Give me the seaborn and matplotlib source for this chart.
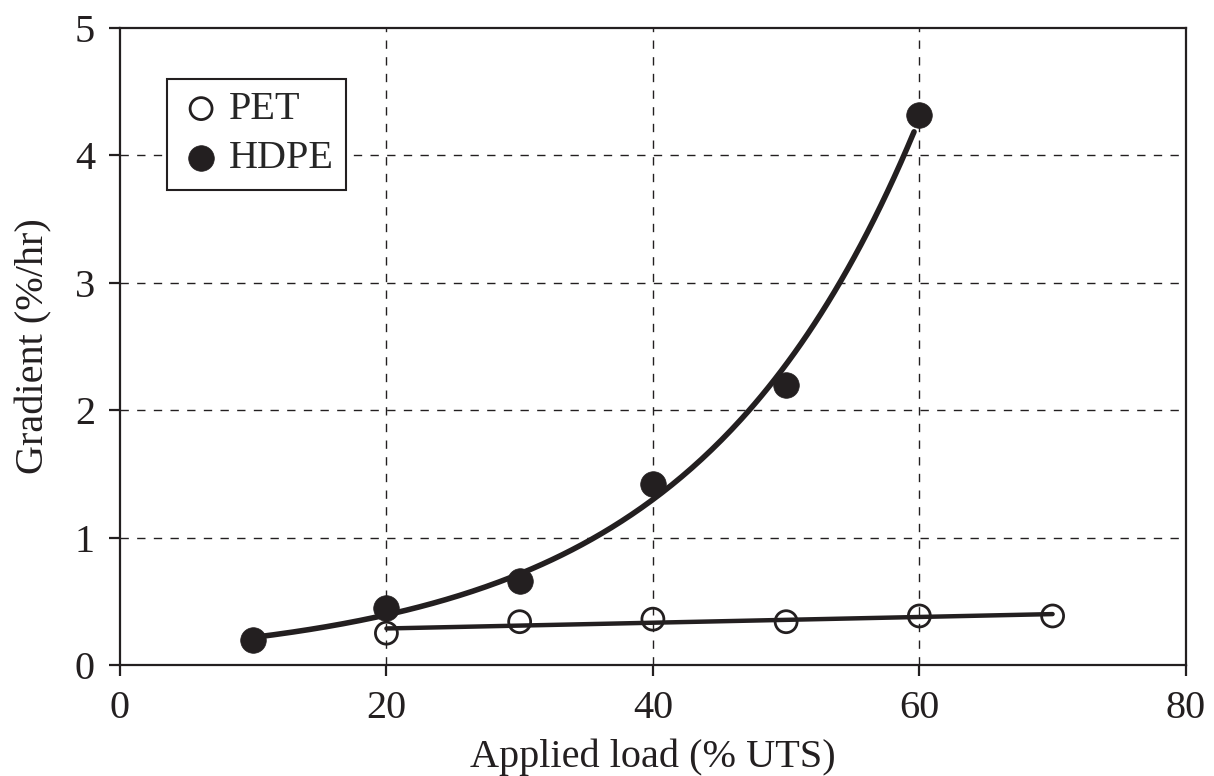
import numpy as np
import pandas as pd
import matplotlib
matplotlib.use("Agg")
import matplotlib.pyplot as plt
import seaborn as sns

# ---- data ----
hdpe_load = [10, 20, 30, 40, 50, 60]
hdpe_grad = [0.20, 0.45, 0.66, 1.42, 2.20, 4.32]
pet_load = [20, 30, 40, 50, 60, 70]
pet_grad = [0.25, 0.34, 0.36, 0.34, 0.385, 0.385]
x_ticks = [0, 20, 40, 60, 80]
y_ticks = [0, 1, 2, 3, 4, 5]

INK = "#231f20"

sns.set_theme(style="white")
plt.rcParams["font.family"] = ["Liberation Serif", "DejaVu Serif"]
plt.rcParams["mathtext.fontset"] = "stix"

fig = plt.figure(figsize=(12.14, 7.76), dpi=100)
ax = fig.add_axes([0.0988, 0.143, 0.878, 0.821])

# trend lines fitted from the data
hb, ha = np.polyfit(hdpe_load, np.log(hdpe_grad), 1)
xh = np.linspace(min(hdpe_load), max(hdpe_load) - 0.4, 200)
fit_h = pd.DataFrame({"x": xh, "y": np.exp(ha + hb * xh)})
pb, pa = np.polyfit(pet_load, pet_grad, 1)
xp = np.array([min(pet_load), max(pet_load)], dtype=float)
fit_p = pd.DataFrame({"x": xp, "y": pa + pb * xp})

df_h = pd.DataFrame({"x": hdpe_load, "y": hdpe_grad})
df_p = pd.DataFrame({"x": pet_load, "y": pet_grad})

ax.set_xlim(0, 80)
ax.set_ylim(0, 5)
ax.set_xticks(x_ticks)
ax.set_yticks(y_ticks)

# grid (dashed), drawn only at interior ticks
for xv in x_ticks[1:-1]:
    ax.axvline(xv, color=INK, lw=1.0, ls=(0, (6, 6)), zorder=1)
for yv in y_ticks[1:-1]:
    ax.axhline(yv, color=INK, lw=1.0, ls=(0, (6, 6)), zorder=1)

sns.scatterplot(data=df_p, x="x", y="y", ax=ax, marker="o", s=250,
                facecolor="none", edgecolor=INK, linewidth=2.0, zorder=3,
                label="PET")
sns.lineplot(data=fit_p, x="x", y="y", ax=ax, color=INK, lw=3.2, zorder=4,
             legend=False)
sns.lineplot(data=fit_h, x="x", y="y", ax=ax, color=INK, lw=4.0, zorder=4,
             legend=False)
sns.scatterplot(data=df_h, x="x", y="y", ax=ax, marker="o", s=340,
                color=INK, edgecolor=INK, linewidth=0.5, zorder=5,
                label="HDPE")

for s in ax.spines.values():
    s.set_color(INK)
    s.set_linewidth(1.6)
    s.set_visible(True)

ax.tick_params(axis="both", which="major", direction="out", length=8,
               width=1.6, color=INK, labelsize=29, labelcolor=INK, pad=10,
               bottom=True, left=True)

ax.set_xlabel("Applied load (% UTS)", fontsize=29, color=INK, labelpad=8)
ax.set_ylabel("Gradient (%/hr)", fontsize=29, color=INK, labelpad=16)

leg = ax.legend(loc="upper left", bbox_to_anchor=(0.044, 0.92), fontsize=29,
                frameon=True, fancybox=False, edgecolor=INK,
                handletextpad=0.15, borderpad=0.3, labelspacing=0.3,
                handlelength=1.1, borderaxespad=0)
leg.get_frame().set_linewidth(1.5)
leg.get_frame().set_alpha(1)

fig.savefig("out.png", dpi=100)
